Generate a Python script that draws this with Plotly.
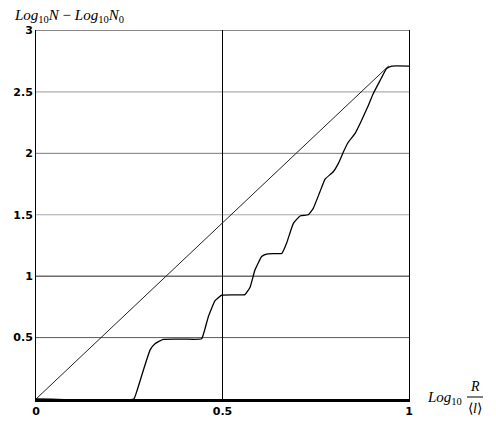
import plotly.graph_objects as go

# Diagonal reference line
diag_x = [0.0, 0.945]
diag_y = [0.0, 2.71]

# Stepped curve
step_x = [0.0, 0.262, 0.270, 0.288, 0.306, 0.319, 0.341, 0.400, 0.444, 0.452, 0.462, 0.480,
          0.498, 0.530, 0.560, 0.574, 0.587, 0.605, 0.618, 0.640, 0.659, 0.672, 0.690,
          0.708, 0.730, 0.743, 0.761, 0.775, 0.797, 0.811, 0.824, 0.837, 0.855, 0.873,
          0.891, 0.904, 0.922, 0.940, 0.954, 1.0]
step_y = [0.0, 0.0, 0.06, 0.236, 0.40, 0.45, 0.485, 0.487, 0.49, 0.56, 0.67, 0.80,
          0.845, 0.848, 0.85, 0.91, 1.05, 1.16, 1.18, 1.183, 1.185, 1.27, 1.43,
          1.49, 1.50, 1.55, 1.685, 1.79, 1.85, 1.92, 2.01, 2.09, 2.16, 2.27,
          2.39, 2.485, 2.59, 2.69, 2.71, 2.71]

y_ticks = [0.5, 1, 1.5, 2, 2.5, 3]
y_tick_text = ["0.5", "1", "1.5", "2", "2.5", "3"]
x_ticks = [0, 0.5, 1]
x_tick_text = ["0", "0.5", "1"]

# gridline shades as they appear in the reference
grid_shades = ["#5a5a5a", "#222222", "#a8a8a8", "#7a7a7a", "#999999", "#888888"]

fig = go.Figure()

tickfont = dict(family="DejaVu Sans", size=11, color="black", weight="bold")
serif = "Liberation Serif"

shapes = [
    dict(type="line", xref="paper", yref="y", x0=0, x1=1, y0=v, y1=v, layer="below",
         line=dict(color=c, width=1))
    for v, c in zip(y_ticks, grid_shades)
]
shapes.append(
    dict(type="line", xref="paper", yref="paper",
         x0=(467 - 36) / 373, x1=(483 - 36) / 373,
         y0=(399 - 397) / 369, y1=(399 - 397) / 369,
         line=dict(color="black", width=1)))

fig.add_trace(go.Scatter(x=diag_x, y=diag_y, mode="lines",
                         line=dict(color="#222222", width=1), hoverinfo="skip"))
fig.add_trace(go.Scatter(x=step_x, y=step_y, mode="lines",
                         line=dict(color="black", width=1.3, shape="spline", smoothing=0.35),
                         hoverinfo="skip"))

# page has an 8px body margin: plot area page px (36..409, 30..399)
fig.update_layout(
    width=480, height=413,
    margin=dict(l=28, r=79, t=22, b=22, autoexpand=False),
    paper_bgcolor="white", plot_bgcolor="white",
    showlegend=False,
    xaxis=dict(range=[0, 1], tickvals=x_ticks, ticktext=x_tick_text,
               showgrid=True, gridcolor="black", gridwidth=1,
               zeroline=False, showline=True, linecolor="black", linewidth=2.5,
               ticks="", tickfont=tickfont, fixedrange=True, automargin=False),
    yaxis=dict(range=[0, 3.004], tickvals=y_ticks, ticktext=y_tick_text,
               showgrid=False,
               zeroline=False, showline=True, mirror=True, linecolor="black", linewidth=1,
               ticks="", tickfont=tickfont, fixedrange=True, automargin=False),
    annotations=[
        dict(xref="paper", yref="paper", x=(12 - 36) / 373, y=(399 - 16) / 369,
             xanchor="left", yanchor="middle", showarrow=False,
             text="<i>Log</i><sub>10</sub><i>N</i> − <i>Log</i><sub>10</sub><i>N</i><sub>0</sub>",
             font=dict(family=serif, size=15, color="black")),
        dict(xref="paper", yref="paper", x=(425 - 36) / 373, y=(399 - 398) / 369,
             xanchor="left", yanchor="middle", showarrow=False,
             text="<i>Log</i><sub>10</sub>",
             font=dict(family=serif, size=15, color="black")),
        dict(xref="paper", yref="paper", x=(475 - 36) / 373, y=(399 - 386) / 369,
             xanchor="center", yanchor="middle", showarrow=False,
             text="<i>R</i>",
             font=dict(family=serif, size=14, color="black")),
        dict(xref="paper", yref="paper", x=(475 - 36) / 373, y=(399 - 408) / 369,
             xanchor="center", yanchor="middle", showarrow=False,
             text="⟨<i>l</i>⟩",
             font=dict(family=serif, size=14, color="black")),
    ],
    shapes=shapes,
)

fig.write_html("out.html")
